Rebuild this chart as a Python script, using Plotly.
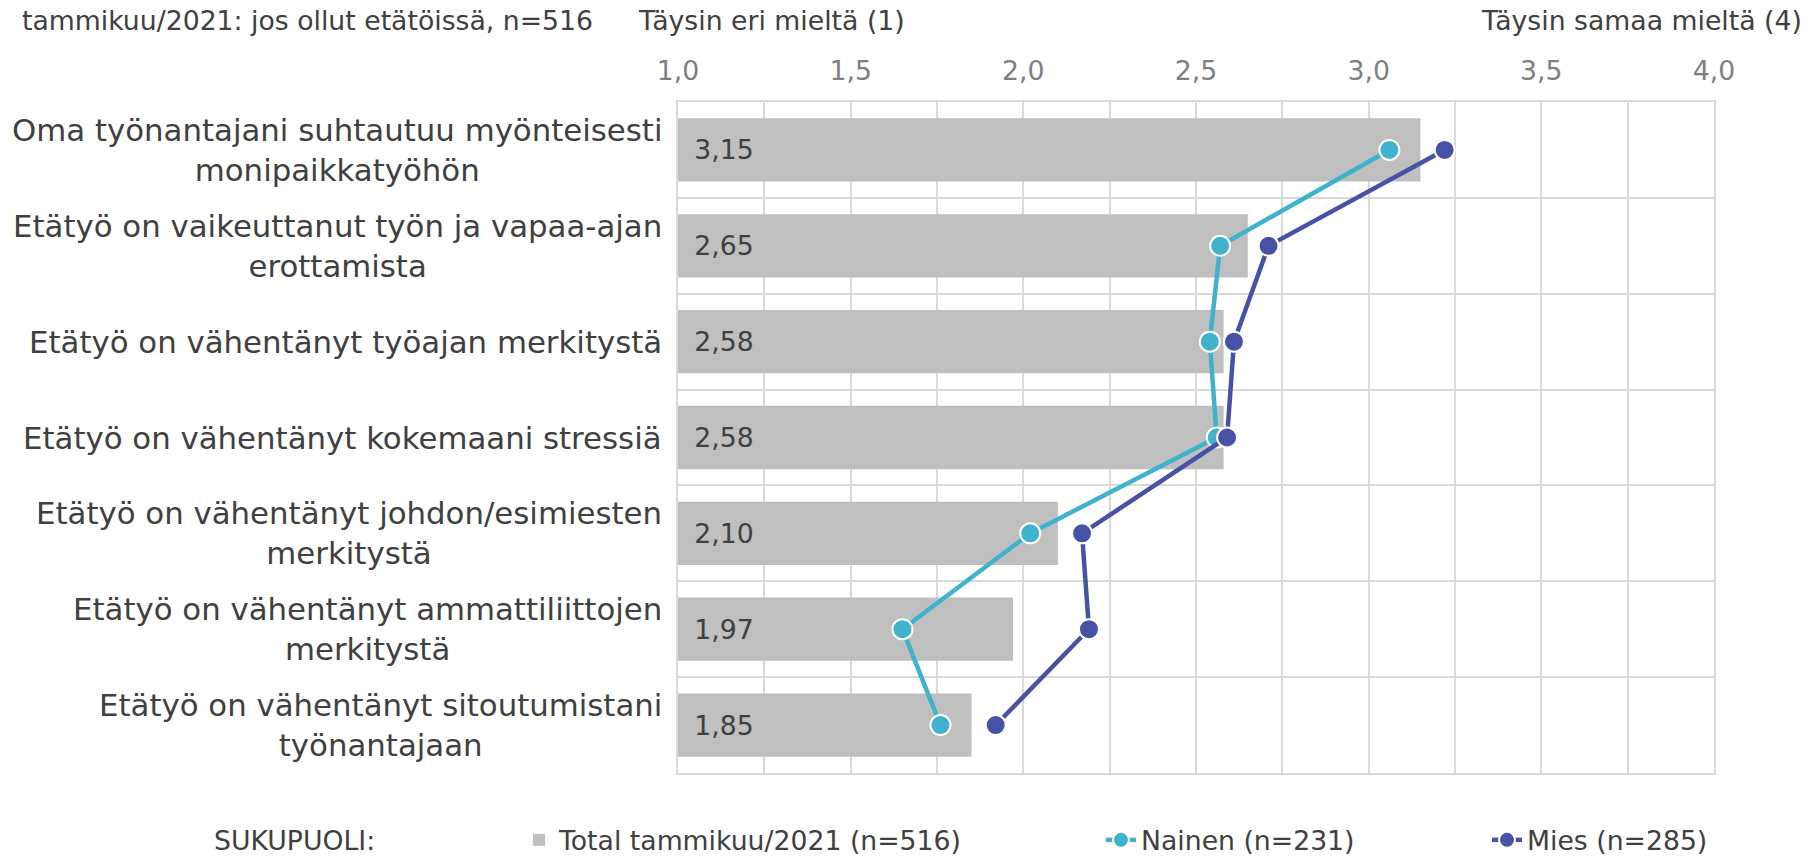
import plotly.graph_objects as go

# ---------------- data ----------------
categories = [
    "Oma työnantajani suhtautuu myönteisesti<br>monipaikkatyöhön",
    "Etätyö on vaikeuttanut työn ja vapaa-ajan<br>erottamista",
    "Etätyö on vähentänyt työajan merkitystä",
    "Etätyö on vähentänyt kokemaani stressiä",
    "Etätyö on vähentänyt johdon/esimiesten<br>merkitystä",
    "Etätyö on vähentänyt ammattiliittojen<br>merkitystä",
    "Etätyö on vähentänyt sitoutumistani<br>työnantajaan",
]
total = [3.15, 2.65, 2.58, 2.58, 2.10, 1.97, 1.85]
nainen = [3.06, 2.57, 2.54, 2.56, 2.02, 1.65, 1.76]
mies = [3.22, 2.71, 2.61, 2.59, 2.17, 2.19, 1.92]

tick_vals = [1.0, 1.5, 2.0, 2.5, 3.0, 3.5, 4.0]
tick_labels = ["1,0", "1,5", "2,0", "2,5", "3,0", "3,5", "4,0"]

series_names = ["Total tammikuu/2021 (n=516)", "Nainen (n=231)", "Mies (n=285)"]
legend_title = "SUKUPUOLI:"
title_left = "tammikuu/2021: jos ollut etätöissä, n=516"
scale_low = "Täysin eri mieltä (1)"
scale_high = "Täysin samaa mieltä (4)"

# ---------------- layout constants ----------------
W, H = 1813, 859
L, R, T, B = 678, 99, 102, 86
PW, PH = W - L - R, H - T - B
FONT = "DejaVu Sans, Verdana, sans-serif"
TXT = "#404040"
GRID = "#D9D9D9"
C_BAR = "#BFBFBF"
C_NAINEN = "#3FB2CE"
C_MIES = "#4652A6"
FS = 26.7      # 20pt
FS_CAT = 30.8  # category labels


def px_x(x):
    return (x - L) / PW


def px_y(y):
    return 1 - (y - T) / PH


base_value = tick_vals[0]

fig = go.Figure()

fig.add_trace(go.Bar(
    y=categories,
    x=[v - base_value for v in total],
    base=base_value,
    orientation="h",
    name=series_names[0],
    legend="legend",
    marker=dict(color=C_BAR, line=dict(width=0)),
    customdata=total,
    texttemplate="\u2002%{customdata:.2f}",
    textposition="inside",
    insidetextanchor="start",
    insidetextfont=dict(family=FONT, size=FS, color=TXT),
    hoverinfo="skip",
))

fig.add_trace(go.Scatter(
    y=categories, x=nainen, mode="lines+markers",
    name=series_names[1],
    legend="legend2",
    line=dict(color=C_NAINEN, width=4.5),
    marker=dict(color=C_NAINEN, size=20, line=dict(color="white", width=2)),
))

fig.add_trace(go.Scatter(
    y=categories, x=mies, mode="lines+markers",
    name=series_names[2],
    legend="legend3",
    line=dict(color=C_MIES, width=4.5),
    marker=dict(color=C_MIES, size=20, line=dict(color="white", width=2)),
))

annotations = []
for c in categories:
    annotations.append(dict(
        xref="paper", yref="y", x=px_x(664), y=c, text=c,
        xanchor="right", yanchor="middle", align="center", showarrow=False,
        font=dict(family=FONT, size=FS_CAT, color=TXT),
    ))

annotations += [
    dict(xref="paper", yref="paper", x=px_x(20), y=px_y(21), text=title_left,
         xanchor="left", yanchor="middle", showarrow=False,
         font=dict(family=FONT, size=FS, color=TXT)),
    dict(xref="paper", yref="paper", x=px_x(636), y=px_y(21), text=scale_low,
         xanchor="left", yanchor="middle", showarrow=False,
         font=dict(family=FONT, size=FS, color=TXT)),
    dict(xref="paper", yref="paper", x=px_x(1804), y=px_y(21), text=scale_high,
         xanchor="right", yanchor="middle", showarrow=False,
         font=dict(family=FONT, size=FS, color=TXT)),
    dict(xref="paper", yref="paper", x=px_x(212), y=px_y(840), text=legend_title,
         xanchor="left", yanchor="middle", showarrow=False,
         font=dict(family=FONT, size=FS, color=TXT)),
]


def legend_at(x_px):
    return dict(
        orientation="h", xref="container", yref="container",
        x=x_px / W, y=1 - 840 / H, xanchor="left", yanchor="middle",
        font=dict(family=FONT, size=FS, color=TXT),
        itemwidth=30, bgcolor="rgba(0,0,0,0)", borderwidth=0,
    )


fig.update_layout(
    width=W, height=H,
    margin=dict(l=L, r=R, t=T, b=B, pad=0),
    paper_bgcolor="white", plot_bgcolor="white",
    separators=", ",
    font=dict(family=FONT, color=TXT),
    bargap=0.34,
    showlegend=True,
    legend=legend_at(519),
    legend2=legend_at(1101),
    legend3=legend_at(1487),
    annotations=annotations,
)

fig.update_xaxes(
    range=[tick_vals[0], tick_vals[-1]], side="top",
    tickmode="array", tickvals=tick_vals, ticktext=tick_labels,
    tickfont=dict(family=FONT, size=FS, color="#7F7F7F"),
    ticks="", ticklabelstandoff=10,
    showgrid=True, gridcolor=GRID, gridwidth=1.5,
    minor=dict(dtick=0.25, tick0=1, showgrid=True, gridcolor=GRID, gridwidth=1.5),
    showline=True, mirror=True, linecolor=GRID, linewidth=1.5,
    zeroline=False, fixedrange=True,
)
fig.update_yaxes(
    type="category", categoryorder="array", categoryarray=categories,
    range=[len(categories) - 0.5, -0.5],
    showticklabels=False, ticks="",
    showgrid=True, tickson="boundaries", gridcolor=GRID, gridwidth=1.5,
    showline=True, mirror=True, linecolor=GRID, linewidth=1.5,
    zeroline=False, fixedrange=True,
)

fig.write_html(
    "out.html",
    config={"displayModeBar": False},
    post_script="document.body.style.margin='0';document.body.style.padding='0';"
                "document.body.style.overflow='hidden';",
)
